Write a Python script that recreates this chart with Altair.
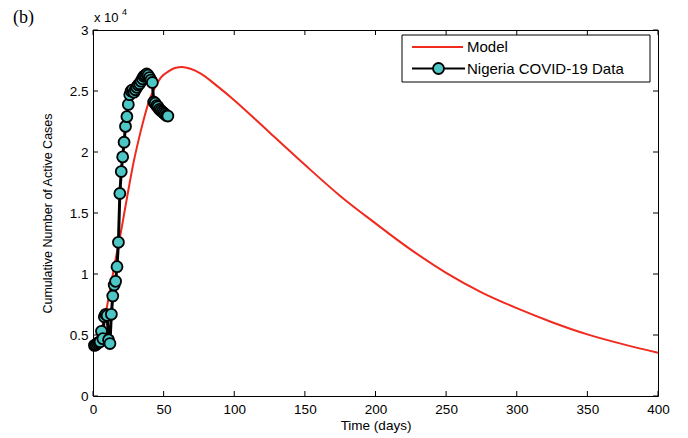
import altair as alt
import pandas as pd

# Nigeria COVID-19 data (days, active cases)
data_days = list(range(1, 54))
data_cases = [4150, 4200, 4300, 4400, 4450, 5300, 4700, 6500, 6700, 6600,
              4600, 4300, 6700, 8200, 9100, 9400, 10600, 12600, 16600, 18400,
              19600, 20800, 22100, 22900, 23900, 24700, 25000, 25100, 24900, 25100,
              25300, 25500, 25600, 25800, 26000, 26200, 26300, 26400, 26300, 26100,
              25900, 25700, 24100, 24000, 23800, 23700, 23500, 23400, 23300, 23200,
              23100, 23000, 22950]

# Model curve
model_days = [1, 4, 7, 10, 13, 16, 19, 22, 26, 29, 32, 36, 40, 44, 48, 54, 58, 63, 69, 76,
              88, 100, 111, 125, 150, 175, 200, 225, 250, 275, 300, 325, 350, 375, 400]
model_cases = [4200, 4900, 5900, 7400, 9300, 11200, 12950, 14900, 17500, 19300, 20850, 22700,
               24300, 25300, 26100, 26650, 26880, 26970, 26820, 26450, 25400, 24250, 23100,
               21600, 18950, 16400, 14150, 12000, 10100, 8500, 7200, 6050, 5050, 4250, 3550]

x_ticks = [0, 50, 100, 150, 200, 250, 300, 350, 400]
y_ticks = [0, 5000, 10000, 15000, 20000, 25000, 30000]

legend_labels = ["Model", "Nigeria COVID-19 Data"]

W, H = 565, 366
RED = "#F02A1E"
CYAN = "#4DC6C6"
FONT = "Liberation Sans"

df_data = pd.DataFrame({"t": data_days, "c": data_cases})
df_model = pd.DataFrame({"t": model_days, "c": model_cases})
df_xt = pd.DataFrame({"t": x_ticks})
df_yt = pd.DataFrame({"c": y_ticks})

xs = alt.Scale(domain=[0, 400], nice=False, zero=False)
ys = alt.Scale(domain=[0, 30000], nice=False, zero=False)

xaxis = alt.Axis(values=x_ticks, title="Time (days)", domain=False, ticks=False, grid=False,
                 labelPadding=6, titlePadding=3, labelFont=FONT, titleFont=FONT,
                 labelFontSize=13.5, titleFontSize=13.5, labelColor="black", titleColor="black",
                 titleFontWeight="normal", labelFlush=False)
yaxis = alt.Axis(values=y_ticks, title="Cumulative Number of Active Cases", domain=False,
                 ticks=False, grid=False, labelPadding=5, labelFont=FONT, titleFont=FONT,
                 labelFontSize=13.5, titleFontSize=12.5, labelColor="black", titleColor="black",
                 titleFontWeight="normal", labelExpr="'' + datum.value / 10000",
                 titleX=-46, titleY=H / 2, titleAngle=270, titleAlign="center",
                 titleBaseline="middle", labelFlush=False)

model = alt.Chart(df_model).mark_line(color=RED, strokeWidth=2, interpolate="monotone").encode(
    x=alt.X("t:Q", scale=xs, axis=xaxis),
    y=alt.Y("c:Q", scale=ys, axis=yaxis),
)

data_line = alt.Chart(df_data).mark_line(color="black", strokeWidth=3).encode(
    x=alt.X("t:Q", scale=xs), y=alt.Y("c:Q", scale=ys)
)
data_pts = alt.Chart(df_data).mark_point(shape="circle", filled=True, fill=CYAN, stroke="black",
                                         strokeWidth=1.8, size=120, opacity=1).encode(
    x=alt.X("t:Q", scale=xs), y=alt.Y("c:Q", scale=ys)
)

# inward ticks
tick_bottom = alt.Chart(df_xt).mark_rule(color="black", strokeWidth=1).encode(
    x=alt.X("t:Q", scale=xs), y=alt.value(H), y2=alt.value(H - 5))
tick_top = alt.Chart(df_xt).mark_rule(color="black", strokeWidth=1).encode(
    x=alt.X("t:Q", scale=xs), y=alt.value(0), y2=alt.value(5))
tick_left = alt.Chart(df_yt).mark_rule(color="black", strokeWidth=1).encode(
    y=alt.Y("c:Q", scale=ys), x=alt.value(0), x2=alt.value(5))
tick_right = alt.Chart(df_yt).mark_rule(color="black", strokeWidth=1).encode(
    y=alt.Y("c:Q", scale=ys), x=alt.value(W), x2=alt.value(W - 5))

# legend (manual)
LX0, LX1, LY0, LY1 = 309, 557, 5, 52
leg_df = pd.DataFrame({"label": legend_labels})
leg_box = alt.Chart(leg_df.head(1)).mark_rect(fill="white", stroke="black", strokeWidth=1).encode(
    x=alt.value(LX0), x2=alt.value(LX1), y=alt.value(LY0), y2=alt.value(LY1))
leg_red = alt.Chart(leg_df.head(1)).mark_rule(color=RED, strokeWidth=2).encode(
    x=alt.value(319), x2=alt.value(370), y=alt.value(17))
leg_blk = alt.Chart(leg_df.head(1)).mark_rule(color="black", strokeWidth=2).encode(
    x=alt.value(319), x2=alt.value(372), y=alt.value(38.5))
leg_pt = alt.Chart(leg_df.head(1)).mark_point(shape="circle", filled=True, fill=CYAN, stroke="black",
                                              strokeWidth=1.8, size=120, opacity=1).encode(
    x=alt.value(345.5), y=alt.value(38.5))
leg_t1 = alt.Chart(leg_df.head(1)).mark_text(align="left", baseline="middle", font=FONT,
                                             fontSize=15, color="black").encode(
    x=alt.value(374), y=alt.value(17), text="label:N")
leg_t2 = alt.Chart(leg_df.tail(1)).mark_text(align="left", baseline="middle", font=FONT,
                                             fontSize=15, color="black").encode(
    x=alt.value(374), y=alt.value(38.5), text="label:N")

ann = pd.DataFrame({"a": ["x 10", "4", "(b)"]})
exp_t = alt.Chart(ann.iloc[[0]]).mark_text(align="left", baseline="alphabetic", font=FONT,
                                           fontSize=13, color="black").encode(
    x=alt.value(1), y=alt.value(-8), text="a:N")
exp_s = alt.Chart(ann.iloc[[1]]).mark_text(align="left", baseline="alphabetic", font=FONT,
                                           fontSize=9, color="black").encode(
    x=alt.value(29), y=alt.value(-15), text="a:N")
lab_b = alt.Chart(ann.iloc[[2]]).mark_text(align="left", baseline="alphabetic",
                                           font="Liberation Serif", fontSize=18,
                                           color="black").encode(
    x=alt.value(-80), y=alt.value(-7), text="a:N")

chart = alt.layer(
    model, data_line, data_pts,
    tick_bottom, tick_top, tick_left, tick_right,
    leg_box, leg_red, leg_blk, leg_pt, leg_t1, leg_t2,
    exp_t, exp_s, lab_b,
).properties(
    width=W, height=H,
    autosize=alt.AutoSizeParams(type="none"),
    padding={"left": 85, "top": 22, "right": 14, "bottom": 42},
    background="white",
).configure_view(stroke="black", strokeWidth=1)

chart.save("out.html", embed_options={"renderer": "svg", "actions": False})
